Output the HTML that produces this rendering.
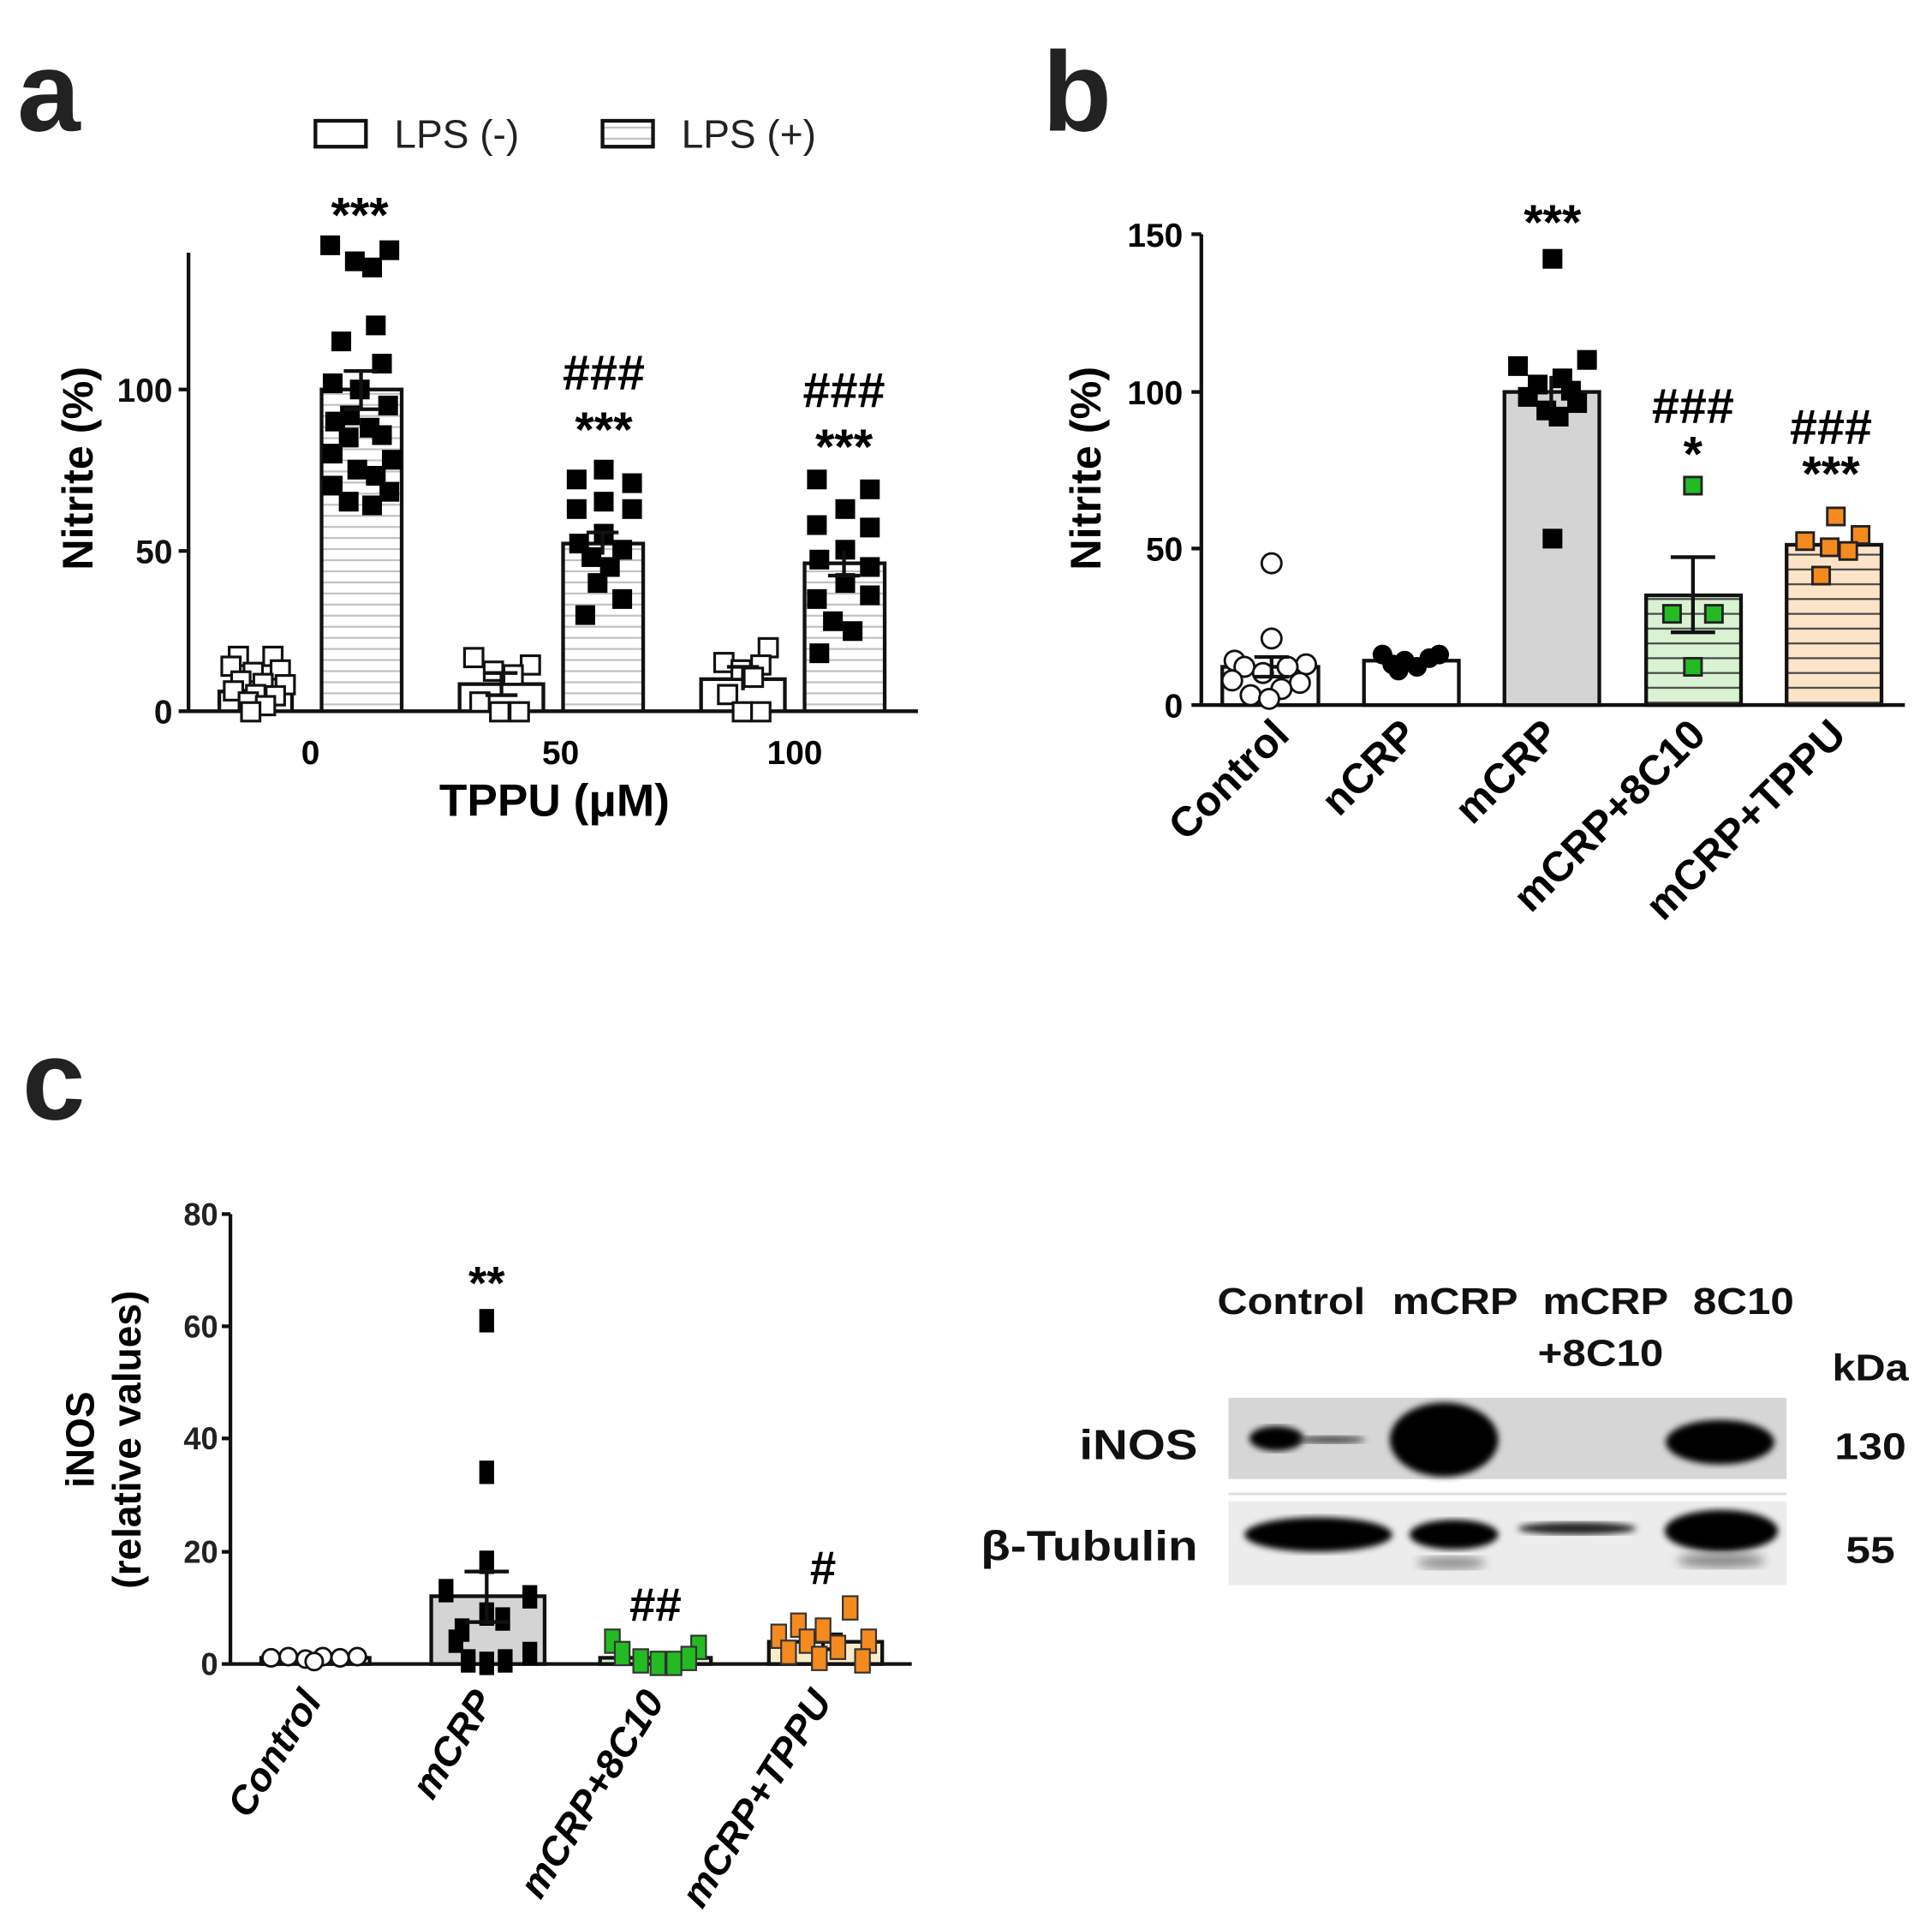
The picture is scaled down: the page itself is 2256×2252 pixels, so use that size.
<!DOCTYPE html>
<html><head><meta charset="utf-8"><style>
html,body{margin:0;padding:0;background:#fff;}
svg{display:block;}
text{font-family:"Liberation Sans",Arial,sans-serif;}
.b{font-weight:bold;}
</style></head><body>
<svg width="2256" height="2252" viewBox="0 0 1568 1565" preserveAspectRatio="none" xmlns="http://www.w3.org/2000/svg">
<defs>
<pattern id="sa" width="10" height="9" patternUnits="userSpaceOnUse"><rect width="10" height="9" fill="#fff"/><line x1="0" y1="4.5" x2="10" y2="4.5" stroke="#c0c0c0" stroke-width="1.5"/></pattern>
<pattern id="sg" width="10" height="12" patternUnits="userSpaceOnUse"><rect width="10" height="12" fill="#d9f3d2"/><line x1="0" y1="6" x2="10" y2="6" stroke="#444" stroke-width="1.5"/></pattern>
<pattern id="so" width="10" height="12" patternUnits="userSpaceOnUse"><rect width="10" height="12" fill="#fde3c8"/><line x1="0" y1="6" x2="10" y2="6" stroke="#444" stroke-width="1.5"/></pattern>
<filter id="bl"><feGaussianBlur stdDeviation="4"/></filter>
<filter id="bl2"><feGaussianBlur stdDeviation="2.5"/></filter>
</defs>
<rect width="1568" height="1565" fill="#fff"/>

<!-- ============ PANEL A ============ -->
<text x="14" y="106" class="b" font-size="92" fill="#222">a</text>
<rect x="256" y="98" width="41" height="21" fill="#fff" stroke="#111" stroke-width="3"/>
<text x="320" y="120" font-size="32" fill="#222">LPS (-)</text>
<rect x="489" y="98" width="41" height="21" fill="url(#sa)" stroke="#111" stroke-width="3"/>
<text x="553" y="120" font-size="32" fill="#222">LPS (+)</text>

<g class="b" font-size="40" text-anchor="middle">
<text x="292" y="188">***</text>
<text x="490" y="316">###</text>
<text x="490" y="362">***</text>
<text x="685" y="330">###</text>
<text x="685" y="376">***</text>
</g>

<g stroke="#111" stroke-width="3">
<line x1="153" y1="205" x2="153" y2="578"/>
<line x1="145" y1="577" x2="745" y2="577"/>
<line x1="145" y1="447" x2="153" y2="447"/>
<line x1="145" y1="316" x2="153" y2="316"/>
</g>
<g class="b" font-size="27" text-anchor="end" fill="#111">
<text x="140" y="587">0</text><text x="140" y="457">50</text><text x="140" y="326">100</text>
</g>
<text transform="translate(75,380) rotate(-90)" class="b" font-size="35" text-anchor="middle">Nitrite (%)</text>
<g class="b" font-size="27" text-anchor="middle"><text x="252" y="620">0</text><text x="455" y="620">50</text><text x="645" y="620">100</text></g>
<text x="450" y="662" class="b" font-size="37" text-anchor="middle">TPPU (μM)</text>

<g stroke="#111" stroke-width="3">
<rect x="178" y="561" width="59" height="16" fill="#fff"/>
<rect x="261" y="316" width="65" height="261" fill="url(#sa)"/>
<rect x="373" y="555" width="68" height="22" fill="#fff"/>
<rect x="457" y="441" width="65" height="136" fill="url(#sa)"/>
<rect x="569" y="551" width="68" height="26" fill="#fff"/>
<rect x="653" y="457" width="65" height="120" fill="url(#sa)"/>
</g>
<g fill="#fff" stroke="#111" stroke-width="2.2">
<rect x="186" y="525" width="15" height="15"/><rect x="214" y="525" width="15" height="15"/>
<rect x="180" y="533" width="15" height="15"/><rect x="198" y="538" width="15" height="15"/><rect x="220" y="536" width="15" height="15"/>
<rect x="188" y="545" width="15" height="15"/><rect x="206" y="547" width="15" height="15"/><rect x="224" y="548" width="15" height="15"/>
<rect x="182" y="553" width="15" height="15"/><rect x="200" y="556" width="15" height="15"/><rect x="216" y="557" width="15" height="15"/>
<rect x="194" y="562" width="15" height="15"/><rect x="208" y="565" width="15" height="15"/><rect x="196" y="570" width="15" height="15"/>
<rect x="377" y="526" width="15" height="15"/><rect x="423" y="532" width="15" height="15"/><rect x="393" y="537" width="15" height="15"/><rect x="409" y="540" width="15" height="15"/>
<rect x="382" y="562" width="15" height="15"/><rect x="398" y="570" width="15" height="15"/><rect x="414" y="570" width="15" height="15"/>
<rect x="616" y="518" width="15" height="15"/><rect x="580" y="530" width="15" height="15"/><rect x="610" y="532" width="15" height="15"/><rect x="594" y="536" width="15" height="15"/>
<rect x="604" y="542" width="15" height="15"/><rect x="583" y="556" width="15" height="15"/><rect x="595" y="570" width="15" height="15"/><rect x="610" y="570" width="15" height="15"/>
</g>
<g fill="#000">
<rect x="260" y="191" width="16" height="16"/><rect x="308" y="195" width="16" height="16"/><rect x="280" y="204" width="16" height="16"/><rect x="294" y="209" width="16" height="16"/>
<rect x="297" y="256" width="16" height="16"/><rect x="269" y="269" width="16" height="16"/><rect x="302" y="287" width="16" height="16"/><rect x="262" y="303" width="16" height="16"/>
<rect x="284" y="308" width="16" height="16"/><rect x="307" y="321" width="16" height="16"/><rect x="276" y="329" width="16" height="16"/><rect x="264" y="334" width="16" height="16"/>
<rect x="292" y="339" width="16" height="16"/><rect x="302" y="345" width="16" height="16"/><rect x="275" y="347" width="16" height="16"/><rect x="262" y="360" width="16" height="16"/>
<rect x="310" y="365" width="16" height="16"/><rect x="282" y="373" width="16" height="16"/><rect x="297" y="378" width="16" height="16"/><rect x="262" y="386" width="16" height="16"/>
<rect x="308" y="391" width="16" height="16"/><rect x="275" y="399" width="16" height="16"/><rect x="294" y="402" width="16" height="16"/>
<rect x="482" y="373" width="16" height="16"/><rect x="460" y="381" width="16" height="16"/><rect x="505" y="384" width="16" height="16"/><rect x="482" y="399" width="16" height="16"/>
<rect x="460" y="405" width="16" height="16"/><rect x="505" y="405" width="16" height="16"/><rect x="482" y="425" width="16" height="16"/><rect x="462" y="433" width="16" height="16"/>
<rect x="497" y="438" width="16" height="16"/><rect x="472" y="444" width="16" height="16"/><rect x="487" y="452" width="16" height="16"/><rect x="477" y="465" width="16" height="16"/>
<rect x="497" y="478" width="16" height="16"/><rect x="467" y="491" width="16" height="16"/>
<rect x="655" y="381" width="16" height="16"/><rect x="698" y="389" width="16" height="16"/><rect x="678" y="405" width="16" height="16"/><rect x="655" y="418" width="16" height="16"/>
<rect x="698" y="420" width="16" height="16"/><rect x="678" y="438" width="16" height="16"/><rect x="657" y="446" width="16" height="16"/><rect x="698" y="452" width="16" height="16"/>
<rect x="678" y="465" width="16" height="16"/><rect x="655" y="478" width="16" height="16"/><rect x="698" y="475" width="16" height="16"/><rect x="668" y="496" width="16" height="16"/>
<rect x="684" y="504" width="16" height="16"/><rect x="657" y="522" width="16" height="16"/>
</g>
<g stroke="#111" stroke-width="3">
<line x1="293" y1="301" x2="293" y2="332"/><line x1="279" y1="301" x2="307" y2="301"/><line x1="279" y1="332" x2="307" y2="332"/>
<line x1="489" y1="432" x2="489" y2="450"/><line x1="476" y1="432" x2="502" y2="432"/>
<line x1="685" y1="447" x2="685" y2="467"/><line x1="672" y1="467" x2="698" y2="467"/>
<line x1="407" y1="546" x2="407" y2="564"/><line x1="394" y1="546" x2="420" y2="546"/><line x1="394" y1="564" x2="420" y2="564"/>
<line x1="603" y1="541" x2="603" y2="560"/><line x1="590" y1="541" x2="616" y2="541"/>
</g>

<!-- ============ PANEL B ============ -->
<text x="846" y="106" class="b" font-size="92" fill="#222">b</text>
<g stroke="#111" stroke-width="3">
<line x1="975" y1="190" x2="975" y2="573"/>
<line x1="967" y1="572" x2="1546" y2="572"/>
<line x1="967" y1="190" x2="975" y2="190"/><line x1="967" y1="318" x2="975" y2="318"/><line x1="967" y1="445" x2="975" y2="445"/>
</g>
<g class="b" font-size="27" text-anchor="end"><text x="960" y="582">0</text><text x="960" y="455">50</text><text x="960" y="328">100</text><text x="960" y="200">150</text></g>
<text transform="translate(893,380) rotate(-90)" class="b" font-size="35" text-anchor="middle">Nitrite (%)</text>
<g class="b" font-size="40" text-anchor="middle">
<text x="1260" y="194">***</text>
<text x="1374" y="343">###</text>
<text x="1374" y="382">*</text>
<text x="1486" y="360">###</text>
<text x="1486" y="398">***</text>
</g>
<g stroke="#111" stroke-width="3">
<rect x="992" y="541" width="78" height="31" fill="#fff"/>
<rect x="1107" y="536" width="77" height="36" fill="#fff"/>
<rect x="1221" y="318" width="77" height="254" fill="#d4d4d4"/>
<rect x="1336" y="483" width="77" height="89" fill="url(#sg)"/>
<rect x="1450" y="442" width="77" height="130" fill="url(#so)"/>
</g>
<g fill="#fff" stroke="#111" stroke-width="2">
<circle cx="1032" cy="457" r="8"/><circle cx="1032" cy="518" r="8"/>
<circle cx="1002" cy="536" r="8"/><circle cx="1060" cy="539" r="8"/><circle cx="1010" cy="541" r="8"/><circle cx="1045" cy="541" r="8"/>
<circle cx="1025" cy="546" r="8"/><circle cx="1000" cy="552" r="8"/><circle cx="1055" cy="554" r="8"/><circle cx="1040" cy="559" r="8"/>
<circle cx="1015" cy="564" r="8"/><circle cx="1030" cy="567" r="8"/>
</g>
<g fill="#000">
<circle cx="1122" cy="531" r="8"/><circle cx="1168" cy="531" r="8"/><circle cx="1160" cy="534" r="8"/><circle cx="1140" cy="536" r="8"/>
<circle cx="1130" cy="539" r="8"/><circle cx="1150" cy="541" r="8"/><circle cx="1135" cy="544" r="8"/>
<rect x="1252" y="202" width="16" height="16"/><rect x="1280" y="284" width="16" height="16"/><rect x="1224" y="289" width="16" height="16"/>
<rect x="1260" y="299" width="16" height="16"/><rect x="1240" y="304" width="16" height="16"/><rect x="1267" y="309" width="16" height="16"/>
<rect x="1232" y="314" width="16" height="16"/><rect x="1272" y="319" width="16" height="16"/><rect x="1247" y="325" width="16" height="16"/>
<rect x="1257" y="330" width="16" height="16"/><rect x="1252" y="429" width="16" height="16"/>
</g>
<g stroke="#111" stroke-width="3">
<line x1="1032" y1="533" x2="1032" y2="549"/><line x1="1018" y1="533" x2="1046" y2="533"/><line x1="1018" y1="549" x2="1046" y2="549"/>
<line x1="1259" y1="305" x2="1259" y2="330"/>
<line x1="1374" y1="452" x2="1374" y2="513"/><line x1="1356" y1="452" x2="1392" y2="452"/><line x1="1356" y1="513" x2="1392" y2="513"/>
<line x1="1488" y1="437" x2="1488" y2="447"/>
</g>
<g stroke="#222" stroke-width="2">
<rect x="1367" y="387" width="14" height="14" fill="#22bb22"/>
<rect x="1350" y="491" width="14" height="14" fill="#22bb22"/><rect x="1384" y="491" width="14" height="14" fill="#22bb22"/>
<rect x="1367" y="534" width="14" height="14" fill="#22bb22"/>
<g fill="#f58a1f"><rect x="1483" y="412" width="14" height="14"/><rect x="1503" y="427" width="14" height="14"/><rect x="1458" y="432" width="14" height="14"/>
<rect x="1478" y="437" width="14" height="14"/><rect x="1493" y="440" width="14" height="14"/><rect x="1471" y="460" width="14" height="14"/></g>
</g>
<g class="b" font-size="34">
<text transform="translate(1048,598) rotate(-45)" text-anchor="end">Control</text>
<text transform="translate(1152,598) rotate(-45)" text-anchor="end">nCRP</text>
<text transform="translate(1267,598) rotate(-45)" text-anchor="end">mCRP</text>
<text transform="translate(1386,598) rotate(-45)" text-anchor="end">mCRP+8C10</text>
<text transform="translate(1500,598) rotate(-45)" text-anchor="end">mCRP+TPPU</text>
</g>

<!-- ============ PANEL C ============ -->
<text x="18" y="908" class="b" font-size="92" fill="#222">c</text>
<g stroke="#111" stroke-width="3">
<line x1="187" y1="985" x2="187" y2="1351"/>
<line x1="180" y1="1350" x2="740" y2="1350"/>
<line x1="180" y1="985" x2="187" y2="985"/><line x1="180" y1="1076" x2="187" y2="1076"/><line x1="180" y1="1167" x2="187" y2="1167"/><line x1="180" y1="1259" x2="187" y2="1259"/>
</g>
<g font-size="26" text-anchor="end" font-weight="bold" fill="#222">
<text x="177" y="1359" textLength="14" lengthAdjust="spacingAndGlyphs">0</text>
<text x="177" y="1268" textLength="28" lengthAdjust="spacingAndGlyphs">20</text>
<text x="177" y="1176" textLength="28" lengthAdjust="spacingAndGlyphs">40</text>
<text x="177" y="1085" textLength="28" lengthAdjust="spacingAndGlyphs">60</text>
<text x="177" y="994" textLength="28" lengthAdjust="spacingAndGlyphs">80</text>
</g>
<text transform="translate(76,1168) rotate(-90)" class="b" font-size="32" text-anchor="middle">iNOS</text>
<text transform="translate(114,1168) rotate(-90)" class="b" font-size="32" text-anchor="middle">(relative values)</text>
<g class="b" font-size="38" text-anchor="middle">
<text x="395" y="1054">**</text>
<text x="532" y="1315">##</text>
<text x="668" y="1285">#</text>
</g>
<g stroke="#111" stroke-width="3">
<rect x="212" y="1345" width="88" height="5" fill="#fff"/>
<rect x="350" y="1295" width="92" height="55" fill="#d4d4d4"/>
<rect x="487" y="1345" width="90" height="5" fill="#d9f3d2"/>
<rect x="624" y="1332" width="92" height="18" fill="#fbecc9"/>
</g>
<g fill="#fff" stroke="#111" stroke-width="2">
<circle cx="220" cy="1345" r="7"/><circle cx="234" cy="1344" r="7"/><circle cx="248" cy="1346" r="7"/><circle cx="262" cy="1344" r="7"/><circle cx="276" cy="1345" r="7"/><circle cx="290" cy="1344" r="7"/><circle cx="255" cy="1348" r="7"/>
</g>
<g fill="#000">
<rect x="389" y="1062" width="12" height="19"/><rect x="389" y="1185" width="12" height="19"/><rect x="389" y="1258" width="12" height="19"/>
<rect x="356" y="1281" width="12" height="19"/><rect x="424" y="1286" width="12" height="19"/><rect x="389" y="1300" width="12" height="19"/>
<rect x="402" y="1304" width="12" height="19"/><rect x="369" y="1313" width="12" height="19"/><rect x="364" y="1322" width="12" height="19"/>
<rect x="424" y="1332" width="12" height="19"/><rect x="374" y="1338" width="12" height="19"/><rect x="389" y="1340" width="12" height="19"/><rect x="404" y="1338" width="12" height="19"/>
</g>
<g stroke="#111" stroke-width="3">
<line x1="395" y1="1275" x2="395" y2="1316"/><line x1="377" y1="1275" x2="413" y2="1275"/><line x1="377" y1="1316" x2="413" y2="1316"/>
<line x1="532" y1="1343" x2="532" y2="1348"/>
<line x1="668" y1="1326" x2="668" y2="1338"/><line x1="652" y1="1326" x2="684" y2="1326"/><line x1="652" y1="1338" x2="684" y2="1338"/>
</g>
<g stroke="#333" stroke-width="1.5">
<g fill="#22bb22">
<rect x="491" y="1322" width="12" height="19"/><rect x="561" y="1327" width="12" height="19"/><rect x="499" y="1332" width="12" height="19"/>
<rect x="514" y="1338" width="12" height="19"/><rect x="528" y="1340" width="12" height="19"/><rect x="541" y="1340" width="12" height="19"/><rect x="553" y="1336" width="12" height="19"/>
</g>
<g fill="#f58a1f">
<rect x="684" y="1295" width="12" height="19"/><rect x="642" y="1309" width="12" height="19"/><rect x="662" y="1313" width="12" height="19"/>
<rect x="626" y="1318" width="12" height="19"/><rect x="649" y="1322" width="12" height="19"/><rect x="699" y="1322" width="12" height="19"/>
<rect x="674" y="1327" width="12" height="19"/><rect x="634" y="1331" width="12" height="19"/><rect x="659" y="1336" width="12" height="19"/><rect x="694" y="1338" width="12" height="19"/>
</g>
</g>
<g class="b" font-size="32" font-style="italic">
<text transform="translate(262,1380) rotate(-58)" text-anchor="end">Control</text>
<text transform="translate(402,1380) rotate(-58)" text-anchor="end">mCRP</text>
<text transform="translate(540,1380) rotate(-58)" text-anchor="end">mCRP+8C10</text>
<text transform="translate(676,1380) rotate(-58)" text-anchor="end">mCRP+TPPU</text>
</g>

<!-- Western blot -->
<g class="b" font-size="30" fill="#111">
<text x="1048" y="1066" text-anchor="middle" textLength="120" lengthAdjust="spacingAndGlyphs">Control</text>
<text x="1181" y="1066" text-anchor="middle" textLength="102" lengthAdjust="spacingAndGlyphs">mCRP</text>
<text x="1303" y="1066" text-anchor="middle" textLength="102" lengthAdjust="spacingAndGlyphs">mCRP</text>
<text x="1299" y="1108" text-anchor="middle" textLength="102" lengthAdjust="spacingAndGlyphs">+8C10</text>
<text x="1415" y="1066" text-anchor="middle" textLength="82" lengthAdjust="spacingAndGlyphs">8C10</text>
<text x="1518" y="1120" text-anchor="middle" textLength="62" lengthAdjust="spacingAndGlyphs">kDa</text>
<text x="972" y="1184" text-anchor="end" textLength="96" lengthAdjust="spacingAndGlyphs" font-size="34">iNOS</text>
<text x="972" y="1266" text-anchor="end" textLength="176" lengthAdjust="spacingAndGlyphs" font-size="34">β-Tubulin</text>
<text x="1518" y="1184" text-anchor="middle" textLength="58" lengthAdjust="spacingAndGlyphs">130</text>
<text x="1518" y="1268" text-anchor="middle" textLength="40" lengthAdjust="spacingAndGlyphs">55</text>
</g>
<rect x="997" y="1134" width="453" height="66" fill="#d6d6d6"/>
<line x1="997" y1="1212" x2="1450" y2="1212" stroke="#ddd" stroke-width="2"/>
<rect x="997" y="1218" width="453" height="68" fill="#ececec"/>
<g fill="#000">
<ellipse cx="1036" cy="1167" rx="22" ry="10" filter="url(#bl2)"/>
<ellipse cx="1080" cy="1168" rx="28" ry="3" fill="#444" filter="url(#bl2)"/>
<ellipse cx="1172" cy="1168" rx="44" ry="30" filter="url(#bl2)"/>
<ellipse cx="1396" cy="1170" rx="44" ry="18" filter="url(#bl2)"/>
<ellipse cx="1070" cy="1245" rx="60" ry="14" filter="url(#bl2)"/>
<ellipse cx="1180" cy="1245" rx="36" ry="12" filter="url(#bl2)"/>
<ellipse cx="1280" cy="1240" rx="48" ry="5" fill="#222" filter="url(#bl2)"/>
<ellipse cx="1397" cy="1242" rx="46" ry="17" filter="url(#bl2)"/>
<ellipse cx="1178" cy="1268" rx="28" ry="5" fill="#888" filter="url(#bl)"/>
<ellipse cx="1397" cy="1266" rx="36" ry="6" fill="#888" filter="url(#bl)"/>
</g>
</svg>
</body></html>
